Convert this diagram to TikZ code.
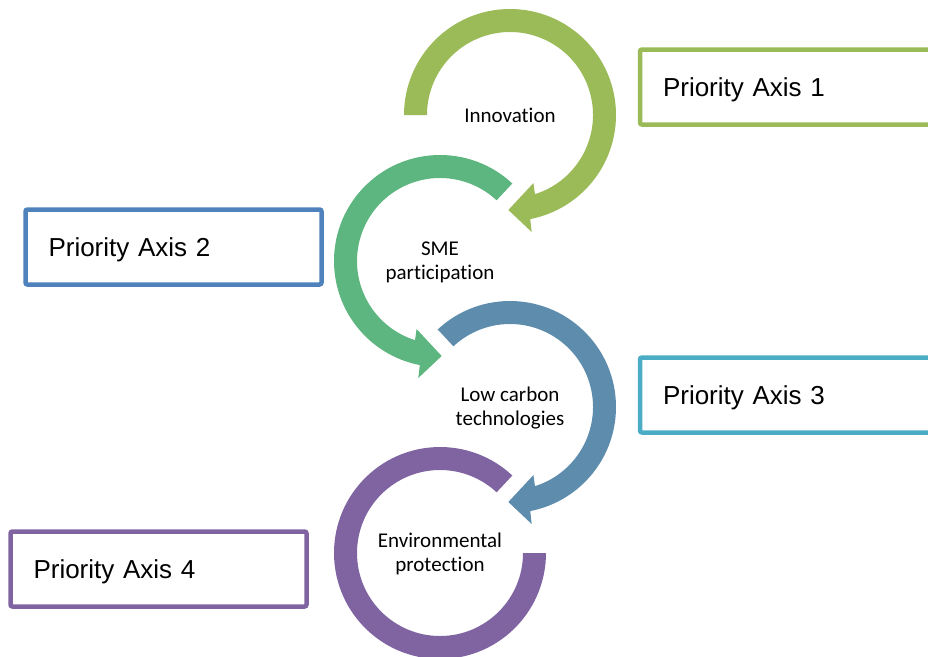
\documentclass[tikz,border=0pt]{standalone}
\usepackage{fontspec}
\setmainfont{Liberation Sans}
\newfontfamily\ringfont[Ligatures=NoCommon]{Carlito}
\definecolor{axisgreen}{HTML}{9BBB59}
\definecolor{axisblue}{HTML}{4F81BD}
\definecolor{axisaqua}{HTML}{4BACC6}
\definecolor{axispurple}{HTML}{8064A2}
\definecolor{ringteal}{HTML}{5DB57F}
\definecolor{ringslate}{HTML}{5E8CAD}
\begin{document}
\begin{tikzpicture}[x=1pt, y=1pt,
  axisbox/.style={draw, line width=4.5pt, rounded corners=2pt, outer sep=0pt, anchor=north west,
    minimum height=75pt, text width=250pt, inner xsep=23pt, align=left,
    text height=21pt, text depth=3pt, font=\fontsize{26}{30}\selectfont},
  ringlabel/.style={align=center, font=\ringfont\fontsize{21}{24}\selectfont}]
\clip (0,0) rectangle (928,-656);

% rings with arrow heads
\fill[axisgreen, shift={(510,-115)}] (180:106) arc[start angle=180, end angle=-79, radius=106] -- (-79.5:119) -- (-91:95) -- (-71:72) -- (-72.5:83) arc[start angle=-72.5, end angle=180, radius=83] -- cycle;
\fill[ringteal, shift={(440,-261)}] (47:106) arc[start angle=47, end angle=259, radius=106] -- (259.5:119) -- (271:95) -- (251:72) -- (252.5:83) arc[start angle=252.5, end angle=47, radius=83] -- cycle;
\fill[ringslate, shift={(510,-407)}] (133:106) arc[start angle=133, end angle=-79, radius=106] -- (-79.5:119) -- (-91:95) -- (-71:72) -- (-72.5:83) arc[start angle=-72.5, end angle=133, radius=83] -- cycle;
\fill[axispurple, shift={(440,-553)}] (47:106) arc[start angle=47, end angle=360, radius=106] -- (0:83) arc[start angle=360, end angle=47, radius=83] -- cycle;

\node[ringlabel] (innovation) at (510,-115) {Innovation};
\node[ringlabel] (sme) at (440,-262) {SME\\participation};
\node[ringlabel] (lowcarbon) at (510,-408) {Low carbon\\technologies};
\node[ringlabel] (environment) at (440,-554) {Environmental\\protection};

% priority axis boxes
\node[axisbox, draw=axisgreen] (axis1) at (640,-49.5) {Priority Axis 1};
\node[axisbox, draw=axisblue] (axis2) at (25.5,-209.5) {Priority Axis 2};
\node[axisbox, draw=axisaqua] (axis3) at (640,-357.5) {Priority Axis 3};
\node[axisbox, draw=axispurple] (axis4) at (10.5,-531.5) {Priority Axis 4};
\end{tikzpicture}
\end{document}
